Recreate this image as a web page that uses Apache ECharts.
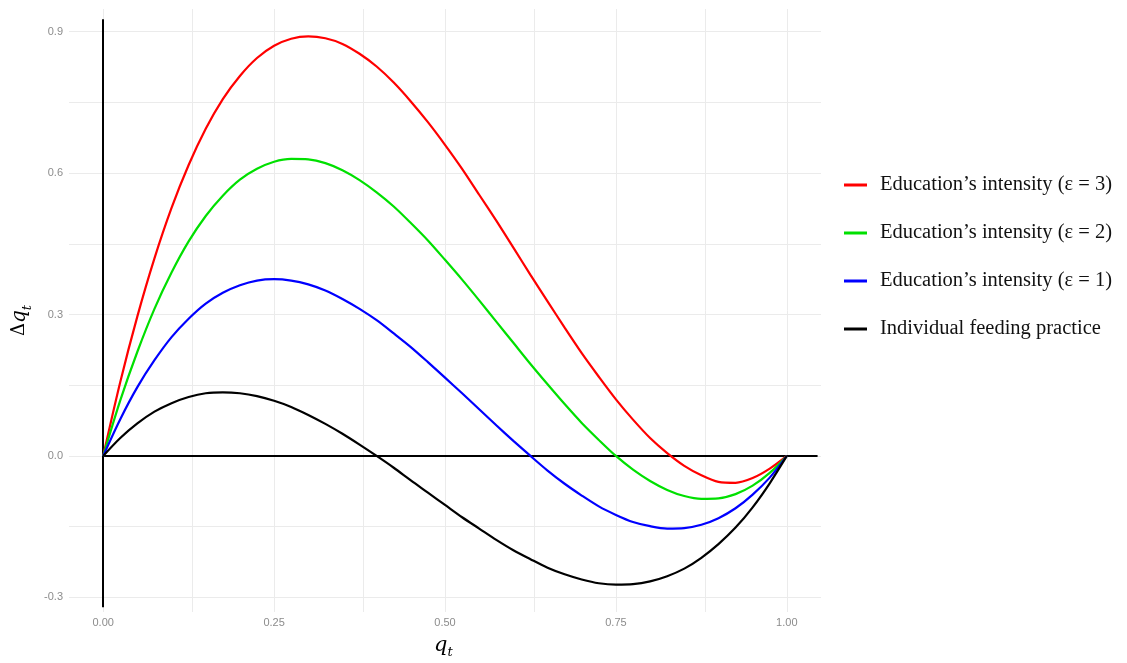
<!DOCTYPE html>
<html>
<head>
<meta charset="utf-8">
<script src="https://cdn.jsdelivr.net/npm/echarts@6/dist/echarts.min.js"></script>
<style>html,body{margin:0;padding:0;background:#fff;}#c{width:1127px;height:663px;}</style>
</head>
<body>
<div id="c"></div>
<script>
const qValues = [0,0.025,0.05,0.075,0.10,0.125,0.15,0.175,0.20,0.225,0.25,0.275,0.30,0.325,0.35,0.375,0.40,0.425,0.45,0.475,0.50,0.525,0.55,0.575,0.60,0.625,0.65,0.675,0.70,0.725,0.75,0.775,0.80,0.825,0.85,0.875,0.90,0.925,0.95,0.975,1.00];
const eps3 = [0,0.157,0.296,0.419,0.526,0.617,0.694,0.757,0.806,0.844,0.870,0.885,0.890,0.886,0.874,0.853,0.826,0.792,0.752,0.708,0.660,0.609,0.554,0.499,0.442,0.384,0.328,0.272,0.218,0.168,0.120,0.077,0.038,0.006,-0.021,-0.041,-0.055,-0.057,-0.047,-0.027,0];
const eps2 = [0,0.118,0.221,0.312,0.389,0.455,0.509,0.552,0.586,0.609,0.624,0.630,0.629,0.621,0.606,0.585,0.559,0.529,0.494,0.457,0.416,0.374,0.330,0.285,0.240,0.195,0.152,0.110,0.070,0.034,0.000,-0.029,-0.053,-0.072,-0.085,-0.091,-0.090,-0.081,-0.063,-0.036,0];
const eps1 = [0,0.078,0.146,0.203,0.252,0.291,0.323,0.346,0.362,0.372,0.375,0.372,0.364,0.351,0.333,0.312,0.288,0.260,0.231,0.199,0.166,0.133,0.099,0.065,0.032,0.000,-0.031,-0.059,-0.084,-0.107,-0.125,-0.140,-0.149,-0.154,-0.153,-0.146,-0.132,-0.111,-0.082,-0.046,0];
const individual = [0,0.038,0.069,0.094,0.112,0.125,0.133,0.135,0.133,0.127,0.117,0.104,0.087,0.068,0.047,0.024,0,-0.025,-0.052,-0.078,-0.104,-0.130,-0.154,-0.178,-0.200,-0.219,-0.237,-0.251,-0.262,-0.270,-0.273,-0.272,-0.266,-0.255,-0.239,-0.216,-0.187,-0.152,-0.109,-0.058,0];
const seriesNames = ["Education\u2019s intensity (\u03b5 = 3)","Education\u2019s intensity (\u03b5 = 2)","Education\u2019s intensity (\u03b5 = 1)","Individual feeding practice"];
const xTicks = [0,0.25,0.5,0.75,1.0];
const xMinor = [0.125,0.375,0.625,0.875];
const yTicks = [-0.3,0,0.3,0.6,0.9];
const yMinor = [-0.15,0.15,0.45,0.75];
const vRefLine = [[0,-0.321],[0,0.926]];
const hRefLine = [[0,0],[1.045,0]];

const colors = ['#ff0000','#00e000','#0000ff','#000000'];
const values = [eps3, eps2, eps1, individual];

const chart = echarts.init(document.getElementById('c'));
const curveSeries = values.map((arr, k) => ({
  name: seriesNames[k],
  type: 'line',
  smooth: 0.3,
  showSymbol: false,
  z: 5,
  lineStyle: {color: colors[k], width: 2.2},
  itemStyle: {color: colors[k]},
  data: qValues.map((q, i) => [q, arr[i]])
}));

const gridSeries = {
  type: 'line', data: [], z: 1, silent: true,
  markLine: {
    symbol: 'none', silent: true, animation: false,
    label: {show: false},
    lineStyle: {color: '#ebebeb', width: 1, type: 'solid'},
    data: xTicks.concat(xMinor).map(v => ({xAxis: v})).concat(yTicks.concat(yMinor).map(v => ({yAxis: v})))
  }
};

const refSeries = {
  type: 'line', data: [], z: 10, silent: true,
  markLine: {
    symbol: 'none', silent: true, animation: false,
    label: {show: false},
    lineStyle: {color: '#000000', width: 2, type: 'solid'},
    data: [vRefLine, hRefLine].map(d => [{coord: d[0]}, {coord: d[1]}])
  }
};

chart.setOption({
  animation: false,
  backgroundColor: '#fff',
  grid: {left: 69, right: 306, top: 9, bottom: 51},
  xAxis: {
    type: 'value', min: -0.05, max: 1.05,
    axisLine: {show: false}, axisTick: {show: false}, splitLine: {show: false},
    axisLabel: {customValues: xTicks, formatter: v => v.toFixed(2), color: '#8c8c8c', fontSize: 11, fontFamily: 'Liberation Sans', margin: 5}
  },
  yAxis: {
    type: 'value', min: -0.331, max: 0.948,
    axisLine: {show: false}, axisTick: {show: false}, splitLine: {show: false},
    axisLabel: {customValues: yTicks, formatter: v => v.toFixed(1), color: '#8c8c8c', fontSize: 11, fontFamily: 'Liberation Sans', margin: 6}
  },
  legend: {
    orient: 'vertical', left: 839, top: 169, itemGap: 26,
    itemWidth: 23, itemHeight: 3, icon: 'rect',
    data: seriesNames,
    textStyle: {color: '#111', fontSize: 20.5, lineHeight: 22, fontFamily: 'Liberation Serif', padding: [0,0,0,8]}
  },
  graphic: [
    {type: 'text', left: 434, top: 635, style: {
      text: '{v|q}{s|t}',
      rich: {v: {fontSize: 21, fontStyle: 'italic', fontFamily: 'DejaVu Serif', lineHeight: 24, verticalAlign: 'top'},
             s: {fontSize: 13, fontStyle: 'italic', fontFamily: 'DejaVu Serif', lineHeight: 14, verticalAlign: 'bottom'}}
    }},
    {type: 'text', x: 10, y: 336, rotation: Math.PI/2, style: {
      text: '{n|\u0394}{v|q}{s|t}',
      rich: {n: {fontSize: 18, fontFamily: 'DejaVu Serif', lineHeight: 24, verticalAlign: 'top'},
             v: {fontSize: 20, fontStyle: 'italic', fontFamily: 'DejaVu Serif', lineHeight: 24, verticalAlign: 'top'},
             s: {fontSize: 13, fontStyle: 'italic', fontFamily: 'DejaVu Serif', lineHeight: 14, verticalAlign: 'bottom'}}
    }}
  ],
  series: [gridSeries, refSeries].concat(curveSeries)
});
</script>
</body>
</html>
